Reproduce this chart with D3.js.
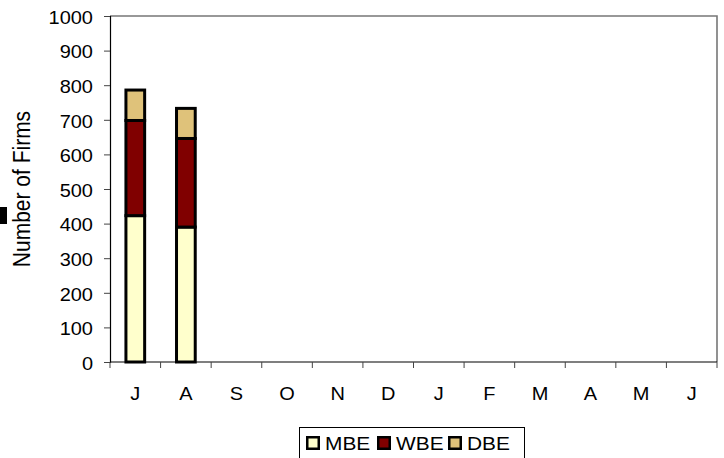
<!DOCTYPE html>
<html>
<head>
<meta charset="utf-8">
<script src="https://cdn.jsdelivr.net/npm/d3@7"></script>
<style>
  body { margin: 0; background: #fff; }
  svg { display: block; font-family: "Liberation Sans", Arial, sans-serif; }
</style>
</head>
<body>
<div id="chart"></div>
<script>
const months = ["J", "A", "S", "O", "N", "D", "J", "F", "M", "A", "M", "J"];
const seriesNames = ["MBE", "WBE", "DBE"];
const mbe = [423, 390, 0, 0, 0, 0, 0, 0, 0, 0, 0, 0];
const wbe = [275, 256, 0, 0, 0, 0, 0, 0, 0, 0, 0, 0];
const dbe = [88, 87, 0, 0, 0, 0, 0, 0, 0, 0, 0, 0];
const yTicks = [0, 100, 200, 300, 400, 500, 600, 700, 800, 900, 1000];
const colors = ["#ffffcc", "#800000", "#dfc27a"];

const W = 724, H = 458;
const plot = { left: 110, right: 717, top: 16, bottom: 362 };
const stretch = 1.13; // text in the picture is a bit wider than tall

const svg = d3.select("#chart").append("svg")
    .attr("width", W)
    .attr("height", H);

// index-based band so repeated month letters stay separate
const x = d3.scaleBand()
    .domain(d3.range(months.length))
    .range([plot.left, plot.right])
    .paddingInner(0.63)
    .paddingOuter(0.315);

const y = d3.scaleLinear().domain([0, 1000]).range([plot.bottom, plot.top]);

const table = months.map((m, i) => ({ i, MBE: mbe[i], WBE: wbe[i], DBE: dbe[i] }));
const stacked = d3.stack().keys(seriesNames)(table);

// plot frame top/right
svg.append("path")
    .attr("d", `M${plot.left},${plot.top}H${plot.right}V${plot.bottom}`)
    .attr("fill", "none")
    .attr("stroke", "#777")
    .attr("stroke-width", 1.6);

// y axis
const yAxis = svg.append("g")
    .attr("transform", `translate(${plot.left},0)`)
    .call(d3.axisLeft(y).tickValues(yTicks).tickFormat(d3.format("d")).tickSize(6));
yAxis.select(".domain").attr("stroke", "#000").attr("stroke-width", 1.2);
yAxis.selectAll(".tick line").attr("stroke", "#444");
yAxis.selectAll("text")
    .attr("x", null).attr("dy", null)
    .attr("transform", "translate(-17,7.3) scale(" + stretch + ",1)")
    .attr("font-size", 17.7).attr("fill", "#000")
    .attr("font-family", "Liberation Sans, Arial, sans-serif");

// x axis with ticks between categories
const xEdge = d3.scaleLinear().domain([0, months.length]).range([plot.left, plot.right]);
const xAxisG = svg.append("g").attr("transform", `translate(0,${plot.bottom})`);
xAxisG.append("line")
    .attr("x1", plot.left).attr("x2", plot.right)
    .attr("stroke", "#000").attr("stroke-width", 1.2);
xAxisG.selectAll(".xt")
    .data(d3.range(months.length + 1))
    .join("line")
    .attr("x1", d => xEdge(d)).attr("x2", d => xEdge(d))
    .attr("y1", 0).attr("y2", 6)
    .attr("stroke", "#444");
xAxisG.selectAll(".xl")
    .data(months)
    .join("text")
    .attr("transform", (d, i) => `translate(${x(i) + x.bandwidth() / 2},38) scale(${stretch},1)`)
    .attr("text-anchor", "middle")
    .attr("font-size", 17.7)
    .text(d => d);

// bars
svg.append("g").selectAll("g")
    .data(stacked)
    .join("g")
    .attr("fill", (d, i) => colors[i])
    .selectAll("rect")
    .data(d => d.filter(v => v[1] > v[0]))
    .join("rect")
    .attr("x", d => x(d.data.i))
    .attr("y", d => y(d[1]))
    .attr("width", x.bandwidth())
    .attr("height", d => y(d[0]) - y(d[1]))
    .attr("stroke", "#000")
    .attr("stroke-width", 3);

// axis title
svg.append("text")
    .attr("transform", `translate(30,189) scale(${stretch},1) rotate(-90)`)
    .attr("text-anchor", "middle")
    .attr("font-size", 21)
    .text("Number of Firms");

// little black marker at the left edge
svg.append("rect")
    .attr("x", 0).attr("y", 207)
    .attr("width", 7).attr("height", 17)
    .attr("fill", "#000");

// legend
const legend = svg.append("g").attr("transform", "translate(299,427)");
legend.append("rect")
    .attr("x", 0.5).attr("y", 0.5)
    .attr("width", 225).attr("height", 40)
    .attr("fill", "#fff")
    .attr("stroke", "#000")
    .attr("stroke-width", 1);
const item = legend.selectAll(".item")
    .data(seriesNames)
    .join("g")
    .attr("transform", (d, i) => `translate(${7 + 71 * i},0)`);
item.append("rect")
    .attr("x", 1.25).attr("y", 10.25)
    .attr("width", 11.5).attr("height", 11.5)
    .attr("fill", (d, i) => colors[i])
    .attr("stroke", "#000")
    .attr("stroke-width", 2.5);
item.append("text")
    .attr("transform", `translate(19,22.7) scale(${stretch},1)`)
    .attr("font-size", 18.5)
    .text(d => d);
</script>
</body>
</html>
